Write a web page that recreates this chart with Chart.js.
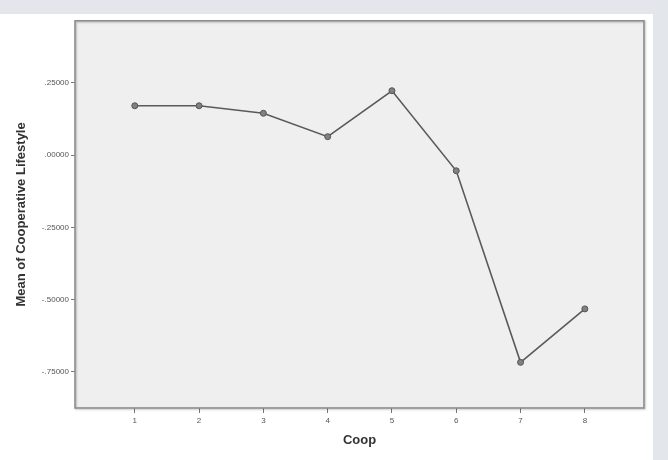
<!DOCTYPE html>
<html>
<head>
<meta charset="utf-8">
<script src="https://cdn.jsdelivr.net/npm/chart.js@4/dist/chart.umd.min.js"></script>
<style>
  html, body { margin: 0; padding: 0; }
  body { width: 668px; height: 460px; background: #e3e7eb; position: relative; overflow: hidden; }
  #panel { position: absolute; left: 0; top: 14px; width: 653px; height: 446px; background: #ffffff; }
  #chart { display: block; }
</style>
</head>
<body>
<div id="panel"><canvas id="chart" width="653" height="446"></canvas></div>
<script>
// Coop groups on the x axis
const coopLevels = [1, 2, 3, 4, 5, 6, 7, 8];
// Mean of Cooperative Lifestyle for each Coop group
const meanLifestyle = [0.171, 0.171, 0.145, 0.064, 0.223, -0.054, -0.717, -0.532];
// Value axis tick positions
const yTickValues = [0.25, 0, -0.25, -0.5, -0.75];

// SPSS-style number format: five decimals, no leading zero
function spssFormat(v) {
  const s = Number(v).toFixed(5);
  return s.replace(/^(-?)0\./, '$1.');
}

// Grey plot frame with a soft drop shadow
const plotFrame = {
  id: 'plotFrame',
  beforeDraw(chart) {
    const { ctx, chartArea: a } = chart;
    ctx.save();
    ctx.fillStyle = '#efefef';
    ctx.fillRect(a.left, a.top, a.right - a.left, a.bottom - a.top);
    ctx.restore();
  },
  beforeDatasetsDraw(chart) {
    const { ctx, chartArea: a } = chart;
    ctx.save();
    ctx.shadowColor = 'rgba(0,0,0,0.25)';
    ctx.shadowBlur = 2;
    ctx.shadowOffsetX = 1;
    ctx.shadowOffsetY = 1;
    ctx.strokeStyle = '#8e8e8e';
    ctx.lineWidth = 1.6;
    ctx.strokeRect(a.left, a.top, a.right - a.left, a.bottom - a.top);
    ctx.restore();
  }
};

const points = coopLevels.map((c, i) => ({ x: c, y: meanLifestyle[i] }));

new Chart(document.getElementById('chart'), {
  type: 'line',
  data: {
    datasets: [{
      data: points,
      borderColor: '#5a5a5a',
      borderWidth: 1.6,
      pointRadius: 3,
      pointBackgroundColor: '#808080',
      pointBorderColor: '#555555',
      pointBorderWidth: 1,
      tension: 0,
      fill: false
    }]
  },
  options: {
    responsive: false,
    animation: false,
    layout: { padding: { left: 0, right: 9, top: 6, bottom: 0 } },
    plugins: {
      legend: { display: false },
      tooltip: { enabled: false }
    },
    scales: {
      x: {
        type: 'linear',
        min: 0.07,
        max: 8.92,
        afterBuildTicks(scale) { scale.ticks = coopLevels.map(v => ({ value: v })); },
        afterFit(scale) { scale.height = 52; },
        border: { display: false },
        grid: { drawOnChartArea: false, drawTicks: true, tickLength: 5, tickColor: '#777777', lineWidth: 1 },
        ticks: {
          color: '#555555',
          font: { family: 'Liberation Sans, Arial, sans-serif', size: 8 },
          padding: 3,
          maxRotation: 0,
          callback: v => String(v)
        },
        title: {
          display: true,
          text: 'Coop',
          color: '#333333',
          font: { family: 'Liberation Sans, Arial, sans-serif', size: 13, weight: 'bold' },
          padding: { top: 12, bottom: 12 }
        }
      },
      y: {
        type: 'linear',
        min: -0.875,
        max: 0.465,
        afterBuildTicks(scale) { scale.ticks = yTickValues.map(v => ({ value: v })); },
        afterFit(scale) { scale.width = 75; },
        border: { display: false },
        grid: { drawOnChartArea: false, drawTicks: true, tickLength: 4, tickColor: '#777777', lineWidth: 1 },
        ticks: {
          color: '#555555',
          font: { family: 'Liberation Sans, Arial, sans-serif', size: 8 },
          padding: 2,
          callback: v => spssFormat(v)
        },
        title: {
          display: true,
          text: 'Mean of Cooperative Lifestyle',
          color: '#333333',
          font: { family: 'Liberation Sans, Arial, sans-serif', size: 13, weight: 'bold' },
          padding: { top: 14, bottom: 0 }
        }
      }
    }
  },
  plugins: [plotFrame]
});
</script>
</body>
</html>
